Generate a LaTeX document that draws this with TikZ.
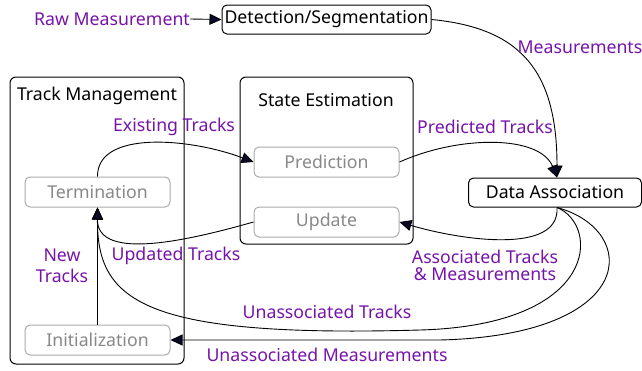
\documentclass[tikz,border=0pt]{standalone}
\usepackage{fontspec}
\setmainfont{Noto Sans}
\usetikzlibrary{arrows.meta}
\definecolor{lbl}{RGB}{118,20,170}
\definecolor{dim}{RGB}{136,136,136}
\definecolor{dimline}{RGB}{170,170,170}
\definecolor{tipc}{RGB}{10,10,40}
\tikzset{
  every node/.style={font=\fontsize{17.7}{19}\selectfont},
  mainbox/.style={draw=black, line width=1pt, rounded corners=5pt, inner sep=0pt},
  subbox/.style={draw=dimline, line width=1pt, rounded corners=5pt, text=dim, minimum width=145pt, minimum height=30pt, inner sep=0pt},
  groupbox/.style={draw=black, line width=1pt, rounded corners=6pt},
  lab/.style={text=lbl, align=center, inner sep=0pt},
  flow/.style={line width=0.9pt, -{Triangle[length=12pt,width=11pt,fill=tipc]}},
}
\begin{document}
\begin{tikzpicture}[x=1pt,y=-1pt]
\useasboundingbox (0,0) rectangle (642,370);

% group frames
\draw[groupbox] (10,77) rectangle (184,364);
\draw[groupbox] (240,77) rectangle (413,244);
\node[inner sep=0pt] (tmtitle) at (97,96) {Track Management};
\node[inner sep=0pt] (setitle) at (326,100) {State Estimation};

% blocks
\node[mainbox, minimum width=209pt, minimum height=29pt] (det) at (326.5,19.5) {Detection/Segmentation};
\node[mainbox, minimum width=173pt, minimum height=29pt] (da) at (555,192.5) {Data Association};
\node[subbox] (pred) at (326.5,162) {Prediction};
\node[subbox] (upd) at (326.5,222) {Update};
\node[subbox] (term) at (97.5,192) {Termination};
\node[subbox] (init) at (97.5,340) {Initialization};

% input
\node[lab] (raw) at (112,19) {Raw Measurement};
\draw[flow] (raw.east) -- (det.west);

% connectors
\coordinate (datop) at (557,177.5);
\coordinate (dabot) at (557,207.5);
\draw[flow] (det.east) .. controls (520,28) and (557,70) .. (datop);
\draw[flow] (pred.east) .. controls (460,135) and (540,135) .. (datop);
\draw[flow] (term.north) .. controls (97,130) and (190,138) .. (pred.west);
\draw[flow] (upd.west) .. controls (190,240) and (97,262) .. (term.south);
\draw[flow] (init.north) -- (term.south);
\draw[flow] (dabot) .. controls (560,255) and (460,240) .. (upd.east);
\draw[flow] (dabot) .. controls (600,225) and (600,325) .. (420,330)
  .. controls (140,338) and (97,300) .. (term.south);
\draw[flow] (dabot) .. controls (640,230) and (640,335) .. (440,340) -- (init.east);

% labels
\node[lab] at (580,47) {Measurements};
\node[lab] at (174,127) {Existing Tracks};
\node[lab] at (485,127) {Predicted Tracks};
\node[lab] at (62,266) {New\\[2pt]Tracks};
\node[lab] at (176,256) {Updated Tracks};
\node[lab] at (485,265) {Associated Tracks\\[-2pt]\& Measurements};
\node[lab] at (327,312) {Unassociated Tracks};
\node[lab] at (327,355) {Unassociated Measurements};
\end{tikzpicture}
\end{document}
